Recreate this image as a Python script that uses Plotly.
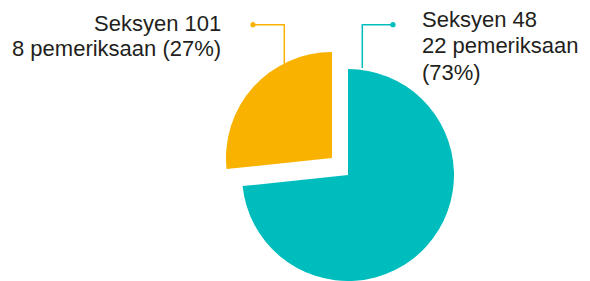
import plotly.graph_objects as go

labels = ["Seksyen 48", "Seksyen 101"]
counts = [22, 8]
percents = ["73%", "27%"]
colors = ["#00BDBD", "#F9B200"]

W, H = 590, 281
FONT = "Liberation Sans, Arial, Helvetica, sans-serif"
TXT = "#231F20"

def px(x):
    return x / W

def py(y):
    return 1 - y / H

fig = go.Figure()
# Main slice (teal), orange slice transparent
fig.add_trace(go.Pie(
    labels=labels, values=counts, sort=False, direction="clockwise", rotation=0,
    marker=dict(colors=[colors[0], "rgba(0,0,0,0)"], line=dict(width=0)),
    textinfo="none", hoverinfo="label+value+percent", showlegend=False,
    domain=dict(x=[px(242), px(454)], y=[py(281), py(69)]),
))
# Exploded slice (orange), teal slice transparent
fig.add_trace(go.Pie(
    labels=labels, values=counts, sort=False, direction="clockwise", rotation=0,
    marker=dict(colors=["rgba(0,0,0,0)", colors[1]], line=dict(width=0)),
    textinfo="none", hoverinfo="label+value+percent", showlegend=False,
    domain=dict(x=[px(226), px(438)], y=[py(264), py(52)]),
))

shapes = []
def leader(pts, color, dot):
    path = "M " + " L ".join(f"{px(x)},{py(y)}" for x, y in pts)
    shapes.append(dict(type="path", xref="paper", yref="paper", path=path,
                       line=dict(color=color, width=1.5)))
    r = 2.6
    shapes.append(dict(type="circle", xref="paper", yref="paper",
                       x0=px(dot[0] - r), x1=px(dot[0] + r),
                       y0=py(dot[1] + r), y1=py(dot[1] - r),
                       fillcolor=color, line=dict(width=0)))

leader([(253, 24.7), (284.3, 24.7), (284.3, 78)], colors[1], (253, 24.7))
leader([(393, 24.7), (362.3, 24.7), (362.3, 68)], colors[0], (393, 24.7))

annotations = []
def line_text(text, x, ycenter, anchor):
    annotations.append(dict(text=text, x=px(x), y=py(ycenter), xref="paper", yref="paper",
                            xanchor=anchor, yanchor="middle", showarrow=False,
                            borderpad=0, font=dict(family=FONT, size=22, color=TXT)))

line_text(labels[1], 222, 24, "right")
line_text(f"{counts[1]} pemeriksaan ({percents[1]})", 222, 48.5, "right")
line_text(labels[0], 421, 19, "left")
line_text(f"{counts[0]} pemeriksaan", 421, 45.5, "left")
line_text(f"({percents[0]})", 421, 72, "left")

fig.update_layout(
    width=W, height=H, margin=dict(l=0, r=0, t=0, b=0),
    paper_bgcolor="white", plot_bgcolor="white",
    shapes=shapes, annotations=annotations,
)
fig.write_html(
    "out.html",
    config={"displayModeBar": False},
    post_script="document.body.style.margin='0';document.body.style.overflow='hidden';",
)
